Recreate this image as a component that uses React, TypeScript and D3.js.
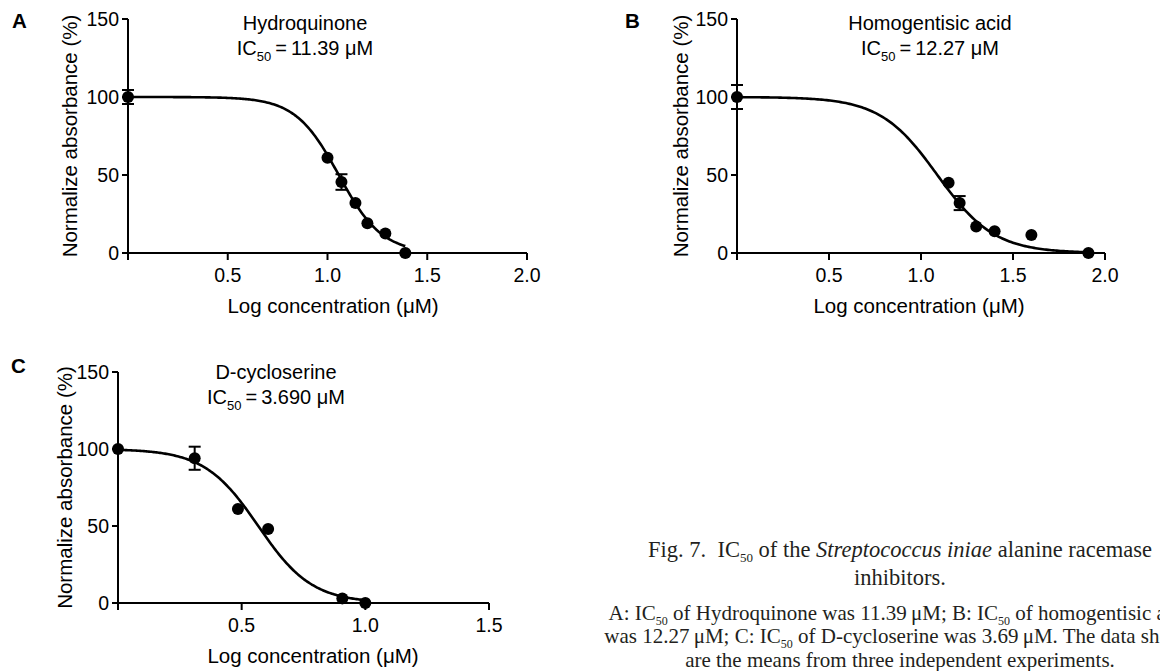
import React from "react";
import * as d3 from "d3";

// ---------- Data ----------
const yTicks = [0, 50, 100, 150];

const hydroquinoneX = [0, 1.0, 1.07, 1.14, 1.2, 1.29, 1.39];
const hydroquinoneY = [100, 61, 45.5, 32, 19, 12.5, 0];
const hydroquinoneErr = [4.5, 0, 5, 0, 0, 0, 0];
const hydroquinoneIC50 = 11.39;
const hydroquinoneHill = 4;
const hydroquinoneXTicks = [0, 0.5, 1.0, 1.5, 2.0];

const homogentisicX = [0, 1.15, 1.21, 1.3, 1.4, 1.6, 1.91];
const homogentisicY = [100, 45, 32, 17, 14, 11.5, 0];
const homogentisicErr = [7.7, 0, 4.5, 0, 0, 0, 0];
const homogentisicIC50 = 12.27;
const homogentisicHill = 2.8;
const homogentisicXTicks = [0, 0.5, 1.0, 1.5, 2.0];

const cycloserineX = [0, 0.31, 0.485, 0.607, 0.907, 1.0];
const cycloserineY = [100, 94, 61, 48, 3, 0];
const cycloserineErr = [0, 7.5, 0, 0, 0, 0];
const cycloserineIC50 = 3.69;
const cycloserineHill = 4;
const cycloserineXTicks = [0, 0.5, 1.0, 1.5];

// ---------- Layout ----------
const panels = [
  {
    letter: "A", name: "Hydroquinone", ic50Label: "11.39 μM",
    xs: hydroquinoneX, ys: hydroquinoneY, errs: hydroquinoneErr,
    ic50: hydroquinoneIC50, hill: hydroquinoneHill, xTicks: hydroquinoneXTicks,
    xDomain: [0, 2], x0: 128, x1: 527, yTop: 19, yBot: 253,
    letterPos: [12, 28], titleX: 305, titleY: 30,
    yLabelX: 77, xLabelX: 333, xLabelY: 313,
  },
  {
    letter: "B", name: "Homogentisic acid", ic50Label: "12.27 μM",
    xs: homogentisicX, ys: homogentisicY, errs: homogentisicErr,
    ic50: homogentisicIC50, hill: homogentisicHill, xTicks: homogentisicXTicks,
    xDomain: [0, 2], x0: 737, x1: 1105, yTop: 19, yBot: 253,
    letterPos: [625, 28], titleX: 930, titleY: 30,
    yLabelX: 688, xLabelX: 919, xLabelY: 313,
  },
  {
    letter: "C", name: "D-cycloserine", ic50Label: "3.690 μM",
    xs: cycloserineX, ys: cycloserineY, errs: cycloserineErr,
    ic50: cycloserineIC50, hill: cycloserineHill, xTicks: cycloserineXTicks,
    xDomain: [0, 1.5], x0: 118, x1: 489, yTop: 372, yBot: 603,
    letterPos: [11, 373], titleX: 276, titleY: 379,
    yLabelX: 72, xLabelX: 313, xLabelY: 663,
  },
];

const SANS = "'Liberation Sans', Arial, Helvetica, sans-serif";
const SERIF = "'Liberation Serif', 'Times New Roman', serif";
const PRE = { whiteSpace: "pre" as const };

function Panel({ p }: { p: any }) {
  const x = d3.scaleLinear().domain(p.xDomain).range([p.x0, p.x1]);
  const y = d3.scaleLinear().domain([0, 150]).range([p.yBot, p.yTop]);
  const logIC = Math.log10(p.ic50);
  const xMax = p.xs[p.xs.length - 1];
  const fit = d3.range(0, 201).map((i) => {
    const xv = (xMax * i) / 200;
    return [xv, 100 / (1 + Math.pow(10, (xv - logIC) * p.hill))];
  });
  const line = d3.line<number[]>().x((d) => x(d[0])).y((d) => y(d[1]));
  const yMid = (p.yTop + p.yBot) / 2;
  const fmt = d3.format(".1f");
  return (
    <g fontFamily={SANS} fill="#000">
      <text x={p.letterPos[0]} y={p.letterPos[1]} fontSize={20.5} fontWeight="bold">{p.letter}</text>
      <text x={p.titleX} y={p.titleY} fontSize={20} textAnchor="middle">{p.name}</text>
      <text x={p.titleX} y={p.titleY + 25} fontSize={20} textAnchor="middle" style={PRE}>
        IC<tspan fontSize={13} dy={6}>50</tspan>
        <tspan dy={-6}>{"\u2009=\u2009" + p.ic50Label}</tspan>
      </text>
      {/* axes */}
      <line x1={p.x0} x2={p.x0} y1={p.yTop} y2={p.yBot} stroke="#000" strokeWidth={2} />
      <line x1={p.x0} x2={p.x1} y1={p.yBot} y2={p.yBot} stroke="#000" strokeWidth={2} />
      {yTicks.map((t) => (
        <g key={"y" + t}>
          <line x1={p.x0 - 6} x2={p.x0} y1={y(t)} y2={y(t)} stroke="#000" strokeWidth={2} />
          <text x={p.x0 - 9} y={y(t)} dy="0.36em" fontSize={19.5} textAnchor="end">{t}</text>
        </g>
      ))}
      {p.xTicks.map((t: number) => (
        <g key={"x" + t}>
          <line x1={x(t)} x2={x(t)} y1={p.yBot} y2={p.yBot + 7} stroke="#000" strokeWidth={2} />
          {t > 0 && (
            <text x={x(t)} y={p.yBot + 29} fontSize={19.5} textAnchor="middle">{fmt(t)}</text>
          )}
        </g>
      ))}
      <text x={p.xLabelX} y={p.xLabelY} fontSize={20.5} textAnchor="middle">Log concentration (μM)</text>
      <text transform={`translate(${p.yLabelX},${yMid}) rotate(-90)`} fontSize={20.5} textAnchor="middle">
        Normalize absorbance (%)
      </text>
      {/* fit curve */}
      <path d={line(fit) || ""} fill="none" stroke="#000" strokeWidth={2.6} />
      {/* error bars */}
      {p.xs.map((xv: number, i: number) => {
        const e = p.errs[i];
        if (!e) return null;
        const cx = x(xv);
        return (
          <g key={"e" + i} stroke="#000" strokeWidth={2}>
            <line x1={cx} x2={cx} y1={y(p.ys[i] + e)} y2={y(p.ys[i] - e)} />
            <line x1={cx - 6} x2={cx + 6} y1={y(p.ys[i] + e)} y2={y(p.ys[i] + e)} />
            <line x1={cx - 6} x2={cx + 6} y1={y(p.ys[i] - e)} y2={y(p.ys[i] - e)} />
          </g>
        );
      })}
      {p.xs.map((xv: number, i: number) => (
        <circle key={"c" + i} cx={x(xv)} cy={y(p.ys[i])} r={6} fill="#000" />
      ))}
    </g>
  );
}

export default function App() {
  const cx = 900;
  return (
    <svg width={1160} height={671} style={{ position: "absolute", left: 0, top: 0, background: "#fff" }}>
      <rect width={1160} height={671} fill="#fff" />
      {panels.map((p) => <Panel key={p.letter} p={p} />)}
      <g fontFamily={SERIF} fill="#231f20">
        <text x={cx} y={557} fontSize={22.5} textAnchor="middle" style={PRE}>
          {"Fig. 7.\u2002IC"}<tspan fontSize={13} dy={5}>50</tspan>
          <tspan dy={-5}>{" of the "}</tspan>
          <tspan fontStyle="italic">Streptococcus iniae</tspan>
          <tspan>{" alanine racemase"}</tspan>
        </text>
        <text x={cx} y={585} fontSize={22.5} textAnchor="middle">inhibitors.</text>
        <text x={cx} y={620} fontSize={21} textAnchor="middle" style={PRE}>
          {"A: IC"}<tspan fontSize={12} dy={5}>50</tspan>
          <tspan dy={-5}>{" of Hydroquinone was 11.39\u2009μM; B: IC"}</tspan>
          <tspan fontSize={12} dy={5}>50</tspan>
          <tspan dy={-5}>{" of homogentisic acid"}</tspan>
        </text>
        <text x={cx} y={643} fontSize={21} textAnchor="middle" style={PRE}>
          {"was 12.27\u2009μM; C: IC"}<tspan fontSize={12} dy={5}>50</tspan>
          <tspan dy={-5}>{" of D-cycloserine was 3.69\u2009μM. The data shown"}</tspan>
        </text>
        <text x={cx} y={667} fontSize={21} textAnchor="middle">are the means from three independent experiments.</text>
      </g>
    </svg>
  );
}
